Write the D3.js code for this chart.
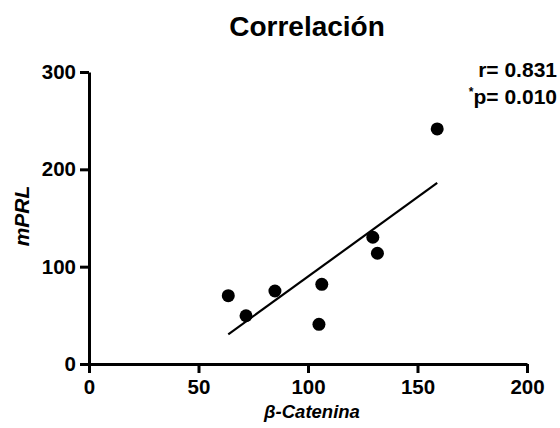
<!DOCTYPE html>
<html>
<head>
<meta charset="utf-8">
<script src="https://cdn.jsdelivr.net/npm/d3@7"></script>
<style>
  body { margin: 0; background: #fff; }
  text { font-family: Arial, "Liberation Sans", sans-serif; font-weight: bold; fill: #000; }
</style>
</head>
<body>
<svg id="chart" width="560" height="428"></svg>
<script>
// data
const catenina = [63.6, 71.7, 84.9, 106.3, 105.0, 129.6, 131.7, 159.0];
const mprl     = [70.2, 49.6, 75.0, 81.9, 40.8, 130.2, 113.8, 241.5];
const xTicks   = [0, 50, 100, 150, 200];
const yTicks   = [0, 100, 200, 300];
const stats    = ['r= 0.831', 'p= 0.010'];

const svg = d3.select('#chart');

const x = d3.scaleLinear().domain([0, 200]).range([89, 527]);
const y = d3.scaleLinear().domain([0, 300]).range([364, 72]);

// axes
const xAxis = svg.append('g')
    .attr('transform', `translate(0, ${y(0)})`)
    .call(d3.axisBottom(x).tickValues(xTicks).tickSize(9).tickPadding(6).tickSizeOuter(0));

const yAxis = svg.append('g')
    .attr('transform', `translate(${x(0)}, 0)`)
    .call(d3.axisLeft(y).tickValues(yTicks).tickSize(9).tickPadding(4).tickSizeOuter(0));

[xAxis, yAxis].forEach((g) => {
  g.select('.domain').attr('stroke', '#000').attr('stroke-width', 3);
  g.selectAll('.tick line').attr('stroke', '#000').attr('stroke-width', 3);
  g.selectAll('.tick text')
      .style('font-family', 'Arial, "Liberation Sans", sans-serif')
      .style('font-weight', 'bold')
      .style('font-size', '20.5px')
      .attr('fill', '#000');
});

// linear regression
const mx = d3.mean(catenina);
const my = d3.mean(mprl);
const sxy = d3.sum(catenina, (d, i) => (d - mx) * (mprl[i] - my));
const sxx = d3.sum(catenina, (d) => (d - mx) ** 2);
const slope = sxy / sxx;
const intercept = my - slope * mx;
const [x0, x1] = d3.extent(catenina);

svg.append('line')
    .attr('x1', x(x0))
    .attr('y1', y(intercept + slope * x0))
    .attr('x2', x(x1))
    .attr('y2', y(intercept + slope * x1))
    .attr('stroke', '#000')
    .attr('stroke-width', 2.2);

// points
svg.append('g')
  .selectAll('circle')
    .data(catenina)
  .enter()
  .append('circle')
    .attr('cx', (d) => x(d))
    .attr('cy', (d, i) => y(mprl[i]))
    .attr('r', 6.5)
    .attr('fill', '#000');

// title
svg.append('text')
    .attr('x', 307)
    .attr('y', 36)
    .attr('text-anchor', 'middle')
    .style('font-size', '28px')
    .text('Correlación');

// axis titles
svg.append('text')
    .attr('x', 312)
    .attr('y', 418)
    .attr('text-anchor', 'middle')
    .style('font-size', '18.5px')
    .style('font-style', 'italic')
    .text('β-Catenina');

svg.append('text')
    .attr('transform', 'translate(28.5, 216) rotate(-90)')
    .attr('text-anchor', 'middle')
    .style('font-size', '21px')
    .style('font-style', 'italic')
    .text('mPRL');

// stats
svg.append('text')
    .attr('x', 557)
    .attr('y', 77)
    .attr('text-anchor', 'end')
    .style('font-size', '21px')
    .text(stats[0]);

const p = svg.append('text')
    .attr('x', 557)
    .attr('y', 100.5)
    .attr('text-anchor', 'end')
    .style('font-size', '21px');
p.append('tspan')
    .attr('dy', '-0.4em')
    .style('font-size', '12px')
    .text('*');
p.append('tspan')
    .attr('dy', '0.4em')
    .text(stats[1]);
</script>
</body>
</html>
